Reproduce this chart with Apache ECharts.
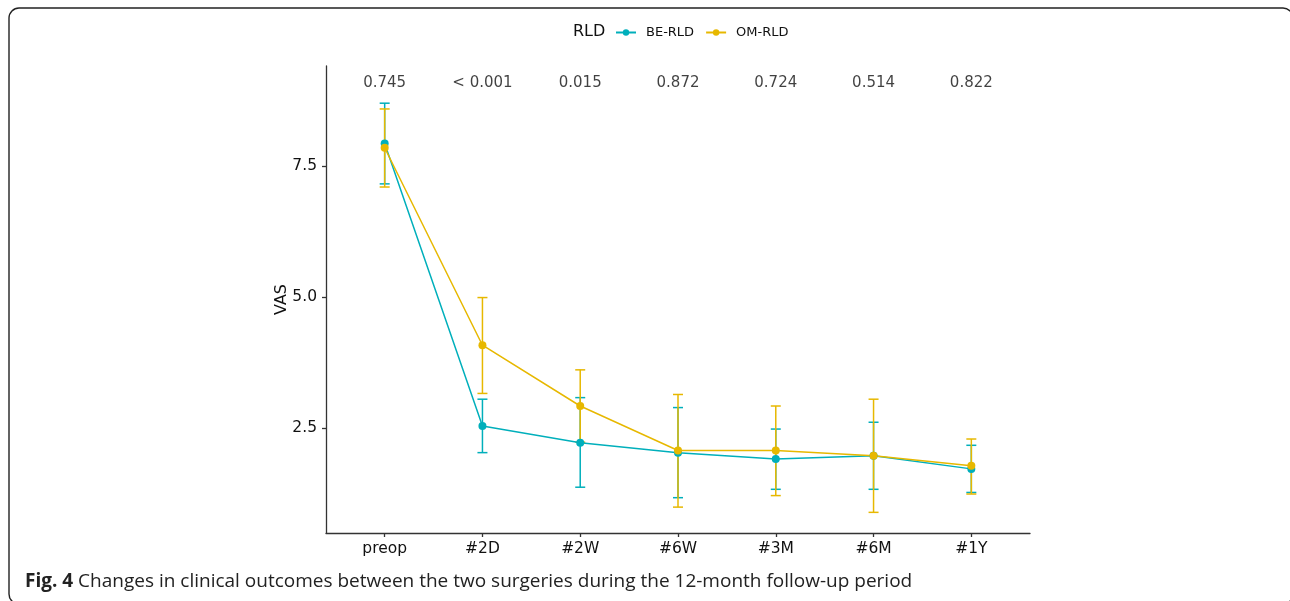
<!DOCTYPE html>
<html>
<head>
<meta charset="utf-8">
<script src="https://cdn.jsdelivr.net/npm/echarts@6/dist/echarts.min.js"></script>
<style>
  html, body { margin: 0; padding: 0; background: #fff; }
  #chart { width: 1290px; height: 601px; }
</style>
</head>
<body>
<div id="chart"></div>
<script>
  // follow-up time points
  const categories = ['preop', '#2D', '#2W', '#6W', '#3M', '#6M', '#1Y'];

  // BE-RLD: mean and error bar ends
  const beMean = [7.93, 2.54, 2.22, 2.03, 1.91, 1.97, 1.72];
  const beLow  = [7.16, 2.03, 1.37, 1.17, 1.33, 1.33, 1.27];
  const beHigh = [8.70, 3.05, 3.08, 2.89, 2.48, 2.61, 2.17];

  // OM-RLD: mean and error bar ends
  const omMean = [7.85, 4.08, 2.92, 2.07, 2.07, 1.97, 1.78];
  const omLow  = [7.10, 3.16, 2.23, 0.99, 1.21, 0.89, 1.24];
  const omHigh = [8.59, 4.99, 3.61, 3.14, 2.92, 3.05, 2.29];

  // p values printed over each time point
  const pValues = ['0.745', '< 0.001', '0.015', '0.872', '0.724', '0.514', '0.822'];
  const pLabelY = 9.08;

  const yTicks = [2.5, 5.0, 7.5];

  const teal = '#00AFBB';
  const gold = '#E7B800';
  const font = 'DejaVu Sans';

  function errorBars(low, high, color) {
    return {
      type: 'custom',
      silent: true,
      z: 2,
      data: categories.map((c, i) => [i, low[i], high[i]]),
      renderItem: function (params, api) {
        const top = api.coord([api.value(0), api.value(2)]);
        const bot = api.coord([api.value(0), api.value(1)]);
        const half = 5;
        const style = { stroke: color, lineWidth: 1.5 };
        return {
          type: 'group',
          children: [
            { type: 'line', shape: { x1: top[0], y1: top[1], x2: bot[0], y2: bot[1] }, style: style },
            { type: 'line', shape: { x1: top[0] - half, y1: top[1], x2: top[0] + half, y2: top[1] }, style: style },
            { type: 'line', shape: { x1: bot[0] - half, y1: bot[1], x2: bot[0] + half, y2: bot[1] }, style: style }
          ]
        };
      }
    };
  }

  function meanLine(name, values, color) {
    return {
      name: name,
      type: 'line',
      z: 3,
      data: values.map((v, i) => [i, v]),
      symbol: 'circle',
      symbolSize: 8,
      lineStyle: { color: color, width: 1.5 },
      itemStyle: { color: color },
      emphasis: { disabled: true }
    };
  }

  const chart = echarts.init(document.getElementById('chart'));
  chart.setOption({
    animation: false,
    textStyle: { fontFamily: font },
    grid: { left: 326, right: 260, top: 66, bottom: 68 },
    legend: {
      left: 610,
      top: 21,
      itemWidth: 20,
      itemHeight: 8,
      itemGap: 11,
      data: ['BE-RLD', 'OM-RLD'],
      textStyle: { fontFamily: font, fontSize: 13, color: '#111', padding: [0, 0, 0, 5] }
    },
    xAxis: {
      type: 'value',
      min: -0.6,
      max: 6.6,
      splitLine: { show: false },
      axisLine: { show: true, onZero: false, lineStyle: { color: '#333', width: 1.3 } },
      axisTick: { show: true, length: 4, customValues: categories.map((c, i) => i), lineStyle: { color: '#333', width: 1.3 } },
      axisLabel: {
        customValues: categories.map((c, i) => i),
        formatter: v => categories[v],
        fontSize: 15.5, color: '#111', margin: 8, fontFamily: font
      }
    },
    yAxis: {
      type: 'value',
      min: 0.496,
      max: 9.41,
      name: 'VAS',
      nameLocation: 'middle',
      nameGap: 36,
      nameMoveOverlap: false,
      nameTextStyle: { fontSize: 16, color: '#111', fontFamily: font },
      splitLine: { show: false },
      axisLine: { show: true, onZero: false, lineStyle: { color: '#333', width: 1.3 } },
      axisTick: { show: true, length: 4, customValues: yTicks, lineStyle: { color: '#333', width: 1.3 } },
      axisLabel: {
        customValues: yTicks,
        formatter: v => v.toFixed(1),
        fontSize: 15.5, color: '#111', margin: 9, fontFamily: font
      }
    },
    series: [
      errorBars(beLow, beHigh, teal),
      errorBars(omLow, omHigh, gold),
      meanLine('BE-RLD', beMean, teal),
      meanLine('OM-RLD', omMean, gold),
      {
        type: 'scatter',
        silent: true,
        symbolSize: 0,
        data: pValues.map((p, i) => [i, pLabelY, p]),
        label: {
          show: true,
          position: 'inside',
          formatter: d => d.data[2],
          fontSize: 15, color: '#111', fontFamily: font
        }
      }
    ],
    graphic: [
      {
        type: 'rect',
        shape: { x: 9, y: 8, width: 1284, height: 596, r: 10 },
        style: { fill: 'none', stroke: '#222', lineWidth: 1.4 },
        silent: true
      },
      {
        type: 'text',
        left: 573,
        top: 24,
        style: { text: 'RLD', font: '16px "DejaVu Sans"', fill: '#111' }
      },
      {
        type: 'text',
        left: 25,
        top: 572,
        style: {
          text: '{b|Fig. 4} Changes in clinical outcomes between the two surgeries during the 12-month follow-up period',
          font: '19px "Open Sans"',
          fill: '#222',
          rich: { b: { font: 'bold 19px "Open Sans"', fill: '#222' } }
        }
      }
    ]
  });
</script>
</body>
</html>
